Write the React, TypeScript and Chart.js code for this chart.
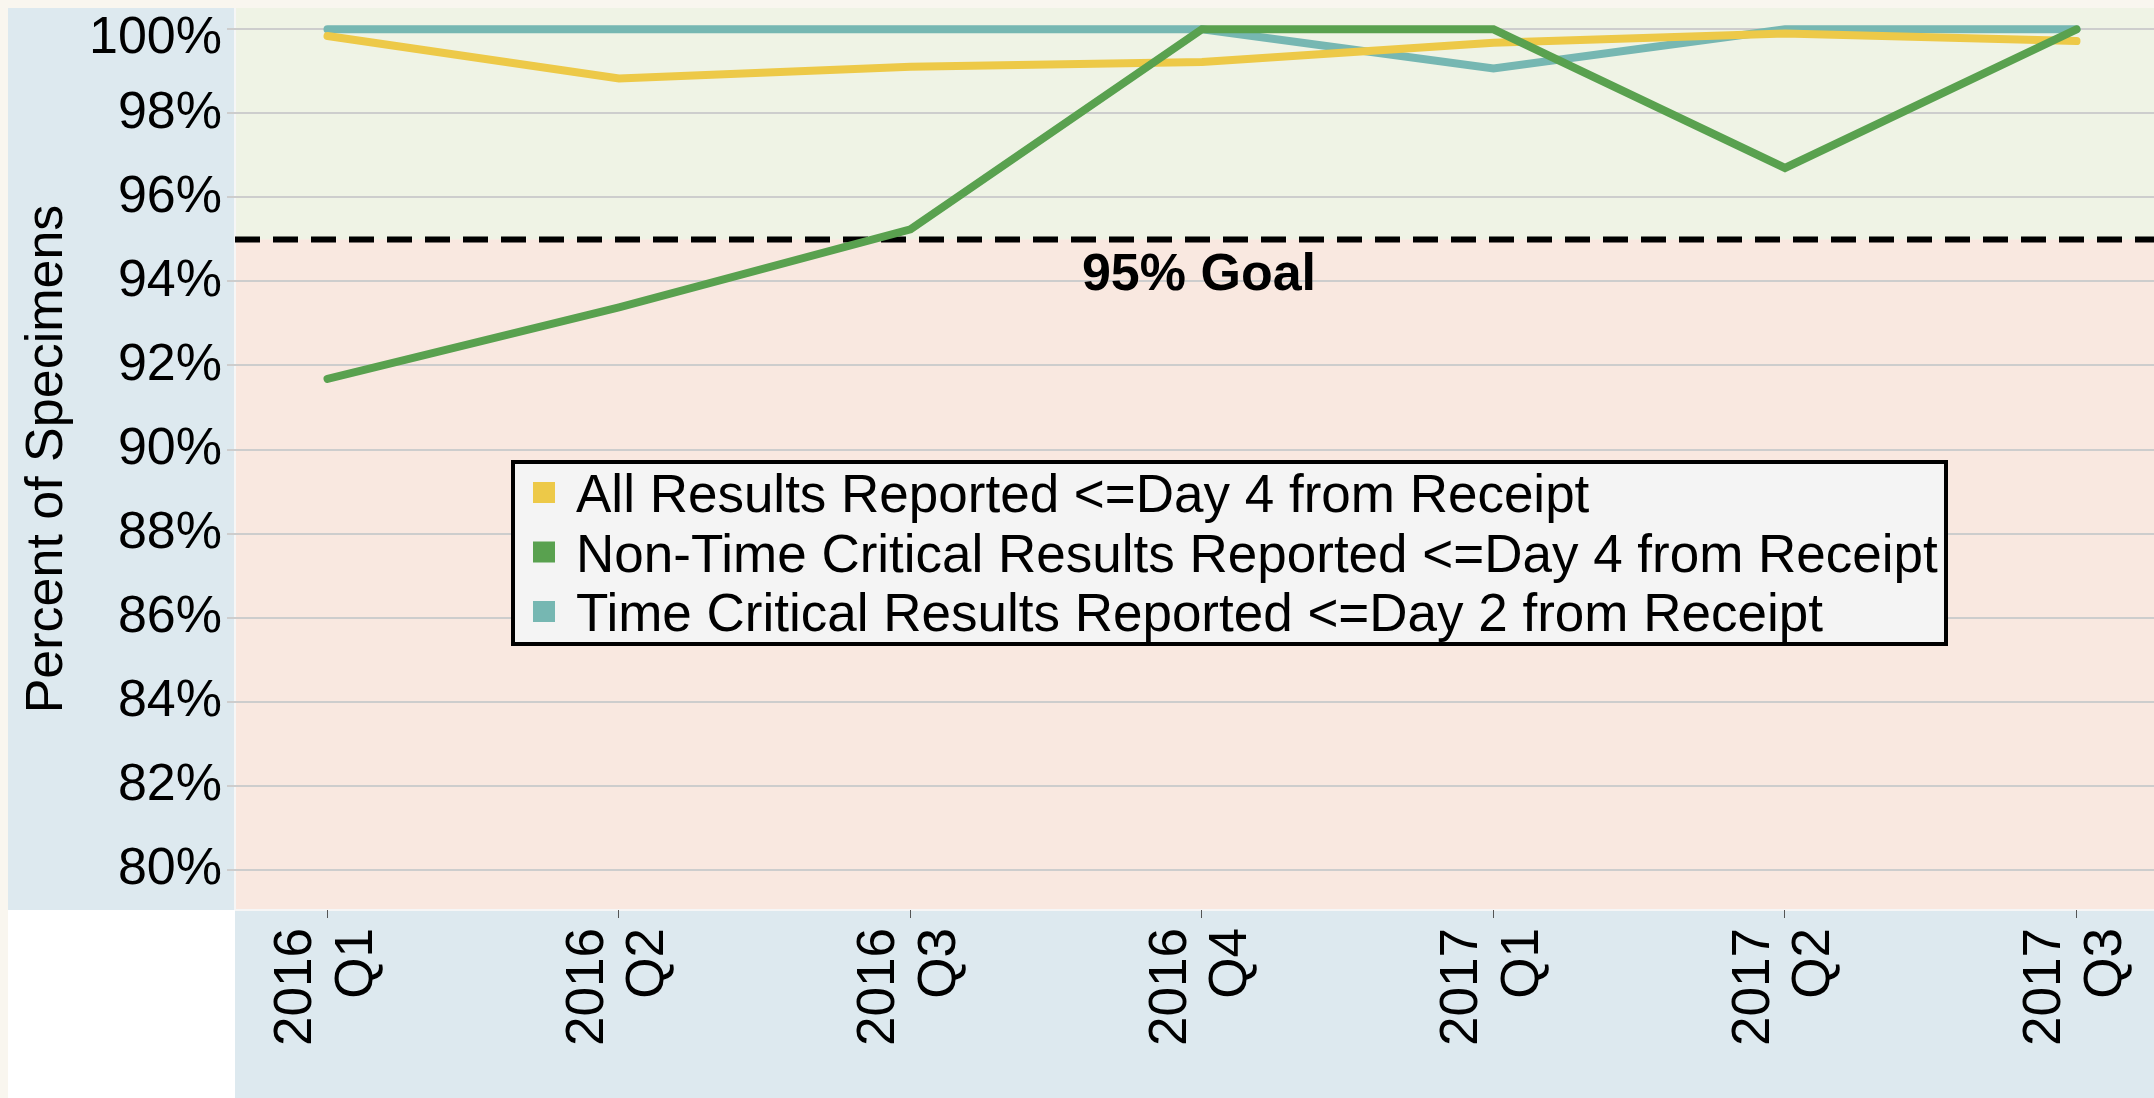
import React, { useEffect, useRef } from "react";
import { Chart, registerables } from "chart.js";

Chart.register(...registerables);

// ---------- data ----------
const quarterLabels: string[][] = [
  ["2016", "Q1"],
  ["2016", "Q2"],
  ["2016", "Q3"],
  ["2016", "Q4"],
  ["2017", "Q1"],
  ["2017", "Q2"],
  ["2017", "Q3"],
];
const allResults = [99.84, 98.83, 99.11, 99.22, 99.68, 99.9, 99.72];
const nonTimeCritical = [91.68, 93.38, 95.24, 100, 100, 96.7, 100];
const timeCritical = [100, 100, 100, 100, 99.07, 100, 100];
const yTickValues = [80, 82, 84, 86, 88, 90, 92, 94, 96, 98, 100];
const seriesLabels = [
  "All Results Reported <=Day 4 from Receipt",
  "Non-Time Critical Results Reported <=Day 4 from Receipt",
  "Time Critical Results Reported <=Day 2 from Receipt",
];
const seriesColors = ["#edc948", "#59a14f", "#76b7b2"];
const goalValue = 95;
const goalLabel = "95% Goal";
const goalLabelAt = 3; // quarter index under which the goal label sits
const yAxisTitle = "Percent of Specimens";

const FONT = '"Liberation Sans", Arial, Helvetica, sans-serif';
const Y_TICK_SIZE = 52;

const panelsPlugin = {
  id: "panels",
  beforeDraw(chart: any) {
    const { ctx, chartArea: a, width, height } = chart;
    const gy = chart.scales.y.getPixelForValue(goalValue);
    ctx.save();
    ctx.fillStyle = "#f9f6ef";
    ctx.fillRect(0, 0, width, height);
    ctx.fillStyle = "#dde9ef";
    ctx.fillRect(8, 8, a.left - 8, a.bottom - 8);
    ctx.fillStyle = "#ffffff";
    ctx.fillRect(8, a.bottom, a.left - 8, height - a.bottom);
    ctx.fillStyle = "#dde9ef";
    ctx.fillRect(a.left, a.bottom, width - a.left, height - a.bottom);
    ctx.fillStyle = "#eff3e5";
    ctx.fillRect(a.left, a.top, a.right - a.left, gy - a.top);
    ctx.fillStyle = "#f9e8e0";
    ctx.fillRect(a.left, gy, a.right - a.left, a.bottom - gy);
    ctx.fillStyle = "#f6f6f6";
    ctx.fillRect(a.left - 1, a.top, 2, a.bottom - a.top);
    ctx.fillRect(a.left, a.bottom - 1, width - a.left, 2);
    ctx.restore();
  },
};

const goalPlugin = {
  id: "goal",
  beforeDatasetsDraw(chart: any) {
    const { ctx, chartArea: a } = chart;
    const gy = chart.scales.y.getPixelForValue(goalValue);
    const gx = chart.scales.x.getPixelForValue(goalLabelAt);
    ctx.save();
    ctx.beginPath();
    ctx.setLineDash([25, 13]);
    ctx.lineWidth = 6;
    ctx.strokeStyle = "#000";
    ctx.moveTo(a.left, gy);
    ctx.lineTo(a.right, gy);
    ctx.stroke();
    ctx.setLineDash([]);
    ctx.font = `bold 52px ${FONT}`;
    ctx.fillStyle = "#000";
    ctx.textAlign = "center";
    ctx.textBaseline = "alphabetic";
    ctx.fillText(goalLabel, gx - 3, gy + 51);
    ctx.restore();
  },
};

const boxLegendPlugin = {
  id: "boxLegend",
  afterDatasetsDraw(chart: any) {
    const { ctx, chartArea: a } = chart;
    const left = a.left + 278;
    const top = a.top + 454;
    const w = 1433;
    const h = 182;
    ctx.save();
    ctx.fillStyle = "#f4f4f4";
    ctx.fillRect(left, top, w, h);
    ctx.lineWidth = 4;
    ctx.strokeStyle = "#000";
    ctx.strokeRect(left, top, w, h);
    ctx.font = `53px ${FONT}`;
    ctx.textAlign = "left";
    ctx.textBaseline = "alphabetic";
    chart.data.datasets.forEach((ds: any, i: number) => {
      const base = top + 50 + i * 59.5;
      ctx.fillStyle = ds.borderColor;
      ctx.fillRect(left + 20, base - 30, 22, 21);
      ctx.fillStyle = "#000";
      ctx.fillText(ds.label, left + 63, base);
    });
    ctx.restore();
  },
};

const toPoints = (arr: number[]) => arr.map((v, i) => ({ x: i, y: v }));

const zeroPadding = (s: any) => {
  s.paddingLeft = 0;
  s.paddingRight = 0;
  s.paddingTop = 0;
  s.paddingBottom = 0;
};

const topTick = yTickValues[yTickValues.length - 1];

export default function App() {
  const ref = useRef<HTMLCanvasElement>(null);

  useEffect(() => {
    document.body.style.margin = "0";
    document.body.style.background = "#f9f6ef";
    document.body.style.overflow = "hidden";
    const series = [allResults, nonTimeCritical, timeCritical];
    const orders = [2, 1, 3];
    const chart = new Chart(ref.current as HTMLCanvasElement, {
      type: "line",
      data: {
        datasets: series.map((s, i) => ({
          label: seriesLabels[i],
          data: toPoints(s),
          borderColor: seriesColors[i],
          backgroundColor: seriesColors[i],
          borderWidth: 8,
          pointRadius: 0,
          pointHoverRadius: 0,
          borderCapStyle: "round",
          borderJoinStyle: "miter",
          tension: 0,
          fill: false,
          order: orders[i],
        })),
      } as any,
      options: {
        responsive: false,
        animation: false,
        devicePixelRatio: 1,
        layout: { padding: { top: 8, left: 0, right: 0, bottom: 0 } },
        plugins: {
          legend: { display: false },
          title: { display: false },
          tooltip: { enabled: false },
        },
        events: [],
        scales: {
          x: {
            type: "linear",
            min: -0.3173,
            max: 6.2659,
            afterBuildTicks: (s: any) => {
              s.ticks = quarterLabels.map((_, i) => ({ value: i }));
            },
            afterFit: (s: any) => {
              s.height = 188;
              zeroPadding(s);
            },
            grid: {
              drawOnChartArea: false,
              drawTicks: true,
              tickLength: 8,
              tickColor: "#555",
              tickWidth: 1,
            },
            border: { display: false },
            ticks: {
              autoSkip: false,
              maxRotation: 90,
              minRotation: 90,
              padding: 10,
              labelOffset: -31,
              color: "#000",
              font: { family: FONT, size: 53, lineHeight: 1.14 },
              callback: (v: any) => quarterLabels[Math.round(v)],
            },
          },
          y: {
            type: "linear",
            min: 79.041,
            max: 100.507,
            afterBuildTicks: (s: any) => {
              s.ticks = yTickValues.map((v) => ({ value: v }));
            },
            afterFit: (s: any) => {
              s.width = 235;
              zeroPadding(s);
            },
            grid: {
              color: "#cdcdcd",
              lineWidth: 2,
              drawTicks: true,
              tickLength: 8,
              tickColor: "#cdcdcd",
            },
            border: { display: false },
            ticks: {
              autoSkip: false,
              padding: 5,
              color: "#000",
              // the top label sits a little lower so it stays inside the pane
              font: (c: any) =>
                c.tick && c.tick.value === topTick
                  ? { family: FONT, size: Y_TICK_SIZE, lineHeight: 18 / Y_TICK_SIZE }
                  : { family: FONT, size: Y_TICK_SIZE },
              callback: (v: any) => (v === topTick ? ["", `${v}%`] : `${v}%`),
            },
            title: {
              display: true,
              text: yAxisTitle,
              color: "#000",
              font: { family: FONT, size: 52, lineHeight: 1.2 },
              padding: { top: 16, bottom: 0 },
            },
          },
        },
      } as any,
      plugins: [panelsPlugin, goalPlugin, boxLegendPlugin],
    });
    return () => chart.destroy();
  }, []);

  return (
    <div style={{ width: 2154, height: 1098 }}>
      <canvas
        ref={ref}
        width={2154}
        height={1098}
        style={{ display: "block", width: 2154, height: 1098 }}
      />
    </div>
  );
}
